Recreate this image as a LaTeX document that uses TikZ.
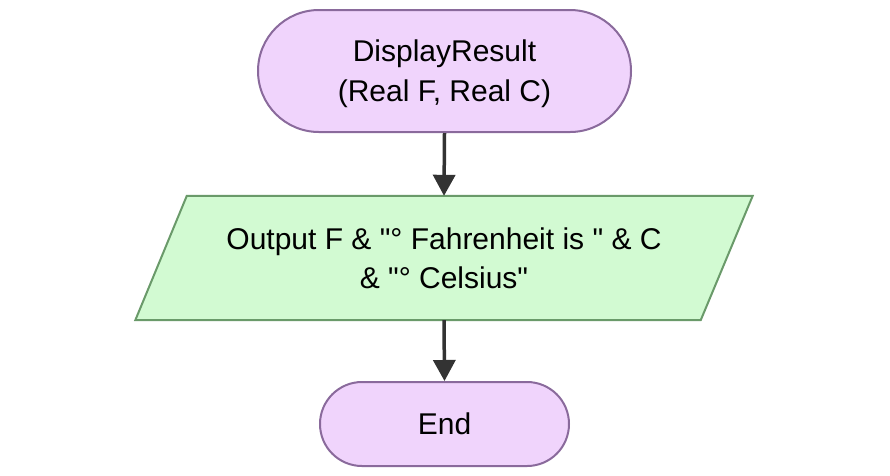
\documentclass[tikz,border=0pt]{standalone}
\usepackage{fontspec}
\setmainfont{Liberation Sans}[Ligatures=TeXOff]
\usetikzlibrary{arrows.meta}
\definecolor{pfill}{HTML}{F0D4FC}
\definecolor{pdraw}{HTML}{8A6A9C}
\definecolor{gfill}{HTML}{D2FAD2}
\definecolor{gdraw}{HTML}{6A9A6A}
\definecolor{arr}{HTML}{333333}
\tikzset{
  txt/.style={font=\fontsize{30}{40}\selectfont},
  terminal/.style={draw=pdraw, fill=pfill, line width=2pt, align=center, txt, inner sep=0pt},
  iobox/.style={inner sep=0pt, minimum width=565pt, minimum height=124pt},
  flow/.style={draw=arr, line width=3.5pt, -{Triangle[width=22pt,length=21pt]}}
}
\begin{document}
\begin{tikzpicture}[x=1pt,y=-1pt]
\useasboundingbox (0,0) rectangle (890,475);
\node[terminal, minimum width=373pt, minimum height=122pt, rounded corners=61pt] (start) at (444.5,71) {};
\node[align=center, txt] (starttext) at (444.5,74) {DisplayResult\\(Real F, Real C)};
\node[iobox] (out) at (444,258) {};
\draw[draw=gdraw, fill=gfill, line width=2pt]
  ([xshift=25.5pt]out.north west) -- ([xshift=26pt]out.north east) --
  ([xshift=-26pt]out.south east) -- ([xshift=-26pt]out.south west) -- cycle;
\node[align=center, font=\fontsize{30}{39}\selectfont] (outtext) at (out.center) {Output F \& "° Fahrenheit is " \& C\\\& "° Celsius"};
\node[terminal, minimum width=249pt, minimum height=84pt, rounded corners=42pt] (end) at (444.5,424) {End};
\draw[flow] (start.south) -- (out.north);
\draw[flow] (out.south) -- (end.north);
\end{tikzpicture}
\end{document}
